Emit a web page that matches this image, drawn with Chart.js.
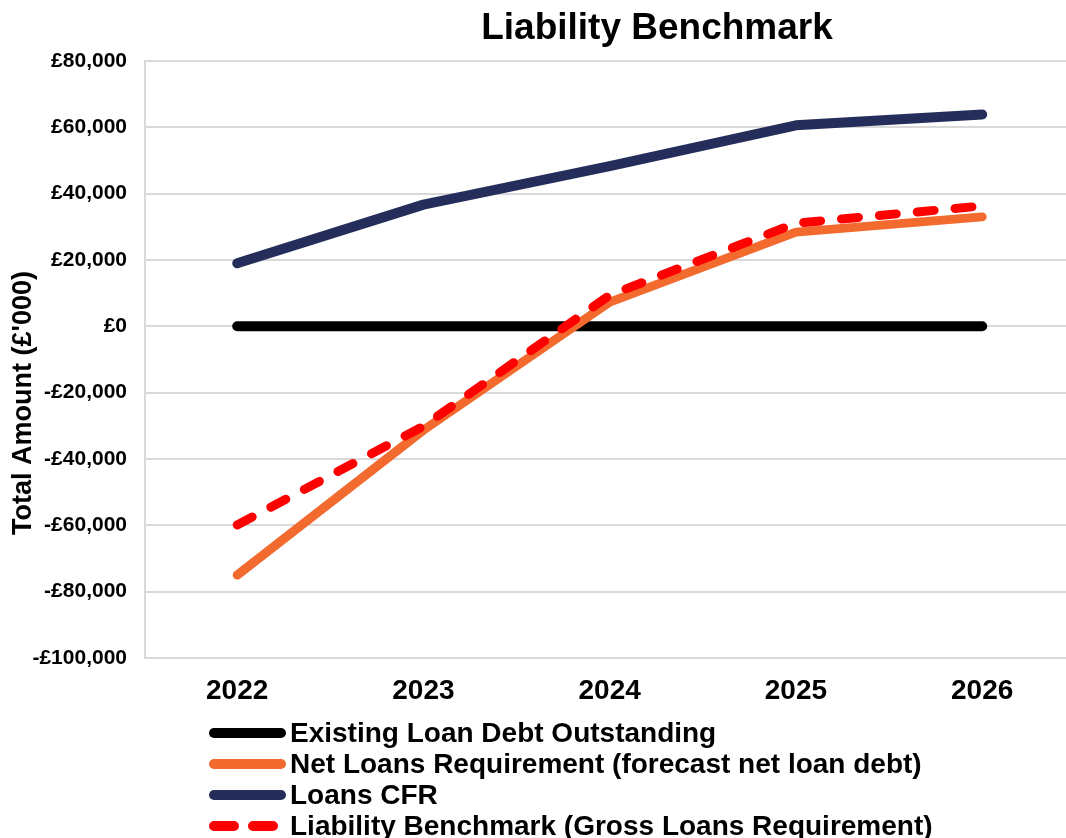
<!DOCTYPE html>
<html>
<head>
<meta charset="utf-8">
<script src="https://cdn.jsdelivr.net/npm/chart.js@4/dist/chart.umd.min.js"></script>
<style>
  html, body { margin: 0; padding: 0; background: #fff; }
  .chart-box { width: 1066px; height: 838px; position: relative; }
</style>
</head>
<body>
<div class="chart-box"><canvas id="chart"></canvas></div>
<script>
const years = [2022, 2023, 2024, 2025, 2026];
const existingDebt = [0, 0, 0, 0, 0];
const netLoansReq = [-75000, -31300, 7300, 28400, 33000];
const loansCfr = [19000, 36700, 48300, 60600, 63900];
const liabilityBenchmark = [-59900, -30100, 9400, 31100, 36300];
const yTicks = [-100000, -80000, -60000, -40000, -20000, 0, 20000, 40000, 60000, 80000];

const FONT = "'Liberation Sans', Arial, sans-serif";
const GRID = '#d9d9d9';

const toPoints = vals => vals.map((v, i) => ({ x: years[i], y: v }));

function fmtPounds(v) {
  const s = '£' + Math.abs(v).toLocaleString('en-GB');
  return v < 0 ? '-' + s : s;
}

// title, y axis title and the stacked legend are drawn by hand
const extrasPlugin = {
  id: 'extras',
  afterDraw(chart) {
    const ctx = chart.ctx;
    ctx.save();
    ctx.fillStyle = '#000';
    ctx.textBaseline = 'middle';

    ctx.font = `bold 37px ${FONT}`;
    ctx.textAlign = 'center';
    ctx.fillText('Liability Benchmark', 657, 29);

    ctx.save();
    ctx.translate(24, 403);
    ctx.rotate(-Math.PI / 2);
    ctx.font = `bold 27px ${FONT}`;
    ctx.fillText("Total Amount (£'000)", 0, 0);
    ctx.restore();

    ctx.font = `bold 28px ${FONT}`;
    ctx.textAlign = 'left';
    chart.data.datasets.forEach((ds, i) => {
      const y = 733 + i * 31;
      ctx.beginPath();
      ctx.strokeStyle = ds.borderColor;
      ctx.lineWidth = 10;
      ctx.lineCap = 'round';
      ctx.setLineDash(ds.borderDash && ds.borderDash.length ? [20, 19] : []);
      ctx.moveTo(214, y);
      ctx.lineTo(281, y);
      ctx.stroke();
      ctx.setLineDash([]);
      ctx.fillText(ds.label, 290, y + 1);
    });
    ctx.restore();
  }
};

const lineStyle = { pointRadius: 0, pointHoverRadius: 0, borderWidth: 10, borderCapStyle: 'round', borderJoinStyle: 'round', tension: 0, fill: false };

new Chart(document.getElementById('chart'), {
  type: 'line',
  data: {
    datasets: [
      { label: 'Existing Loan Debt Outstanding', data: toPoints(existingDebt), borderColor: '#000000', order: 3, ...lineStyle },
      { label: 'Net Loans Requirement (forecast net loan debt)', data: toPoints(netLoansReq), borderColor: '#f26a2e', order: 2, ...lineStyle, borderWidth: 9 },
      { label: 'Loans CFR', data: toPoints(loansCfr), borderColor: '#252e5a', order: 1, ...lineStyle },
      { label: 'Liability Benchmark (Gross Loans Requirement)', data: toPoints(liabilityBenchmark), borderColor: '#ff0000', borderDash: [17, 21], order: 0, ...lineStyle, borderWidth: 9 }
    ]
  },
  options: {
    responsive: true,
    maintainAspectRatio: false,
    animation: false,
    layout: { padding: { top: 61, right: 0, bottom: 0, left: 0 } },
    plugins: {
      legend: { display: false },
      title: { display: false },
      tooltip: { enabled: false }
    },
    scales: {
      x: {
        type: 'linear',
        min: 2021.505,
        max: 2026.45,
        afterFit: s => { s.height = 180; },
        grid: { display: false, drawTicks: false },
        border: { display: true, color: GRID, width: 2 },
        ticks: {
          stepSize: 1,
          includeBounds: false,
          padding: 16,
          color: '#000',
          font: { family: FONT, size: 28, weight: 'bold' },
          callback: v => String(v)
        }
      },
      y: {
        min: yTicks[0],
        max: yTicks[yTicks.length - 1],
        afterFit: s => { s.width = 145; },
        afterBuildTicks: s => { s.ticks = yTicks.map(v => ({ value: v })); },
        grid: { color: GRID, lineWidth: 2, drawTicks: false },
        border: { display: true, color: GRID, width: 2 },
        ticks: {
          padding: 18,
          color: '#000',
          font: { family: FONT, size: 21, weight: 'bold' },
          callback: v => fmtPounds(v)
        }
      }
    }
  },
  plugins: [extrasPlugin]
});
</script>
</body>
</html>
